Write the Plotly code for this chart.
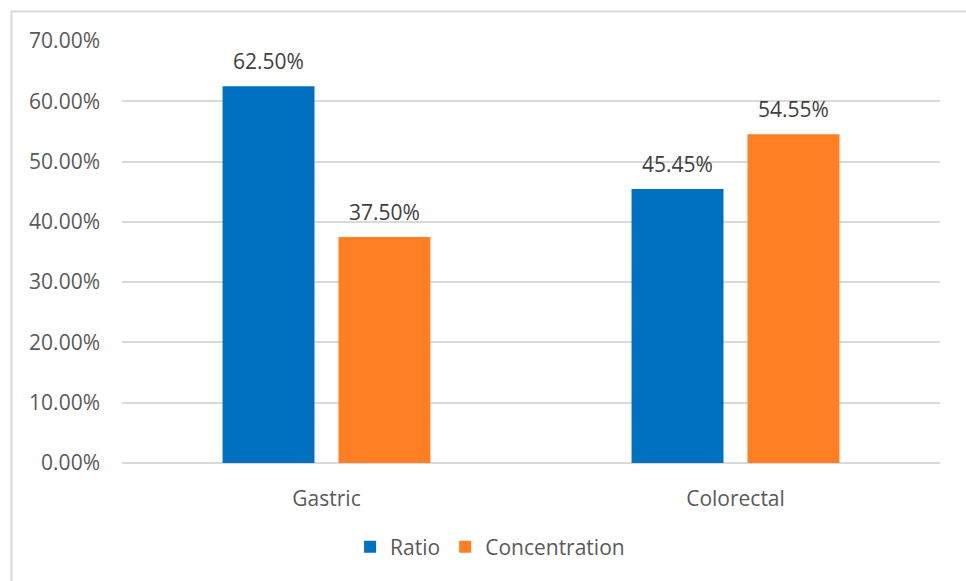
import plotly.graph_objects as go

# Categories and series values (fractions, shown as percentages)
categories = ["Gastric", "Colorectal"]
ratio = [0.6250, 0.4545]
concentration = [0.3750, 0.5455]
y_ticks = [0.0, 0.1, 0.2, 0.3, 0.4, 0.5, 0.6, 0.7]

text_color = "#595959"
label_color = "#404040"
grid_color = "#d9d9d9"
font_family = "Open Sans, Liberation Sans, sans-serif"
fs = 21

series = [
    ("Ratio", ratio, "#0070C0", -58),
    ("Concentration", concentration, "#FF7F22", 58),
]

fig = go.Figure()
annotations = []
for name, vals, color, shift in series:
    fig.add_trace(go.Bar(
        name=name, x=categories, y=vals,
        marker=dict(color=color, line=dict(width=0)),
    ))
    # Value labels placed a little above each bar
    for cat, v in zip(categories, vals):
        annotations.append(dict(
            x=cat, y=v, xref="x", yref="y", text=f"{v:.2%}",
            showarrow=False, xshift=shift, yanchor="bottom", yshift=9,
            font=dict(size=fs, color=label_color),
        ))

W, H = 966, 581
L, R, T, B = 122, 26, 41, 118
pw, ph = W - L - R, H - T - B

def px_x(v):
    return (v - L) / pw

def px_y(v):
    return (H - B - v) / ph

# Frame lines along the top and left edges of the chart
shapes = [
    dict(type="line", xref="paper", yref="paper",
         x0=px_x(11), x1=px_x(W + 5), y0=px_y(11.5), y1=px_y(11.5),
         line=dict(color=grid_color, width=2)),
    dict(type="line", xref="paper", yref="paper",
         x0=px_x(11.5), x1=px_x(11.5), y0=px_y(11), y1=px_y(H + 5),
         line=dict(color=grid_color, width=2)),
]

fig.update_layout(
    width=W, height=H,
    margin=dict(l=L, r=R, t=T, b=B),
    paper_bgcolor="white", plot_bgcolor="white",
    font=dict(family=font_family, size=fs, color=text_color),
    barmode="group", bargap=0.433, bargroupgap=0.207,
    showlegend=True,
    legend=dict(orientation="h", x=0.45, xanchor="center",
                yref="container", y=1 - 547 / H, yanchor="middle",
                font=dict(size=fs, color=text_color), traceorder="normal"),
    shapes=shapes,
    annotations=annotations,
    xaxis=dict(showgrid=False, showline=False, ticks="",
               ticklabelstandoff=21, tickfont=dict(size=fs, color=text_color)),
    yaxis=dict(range=[0, 0.7], tickvals=y_ticks, tickformat=".2%",
               showgrid=True, gridcolor=grid_color, gridwidth=1.5,
               zeroline=True, zerolinecolor=grid_color, zerolinewidth=1.5,
               showline=False, ticks="", ticklabelstandoff=21,
               tickfont=dict(size=fs, color=text_color)),
)

fig.write_html("out.html")
